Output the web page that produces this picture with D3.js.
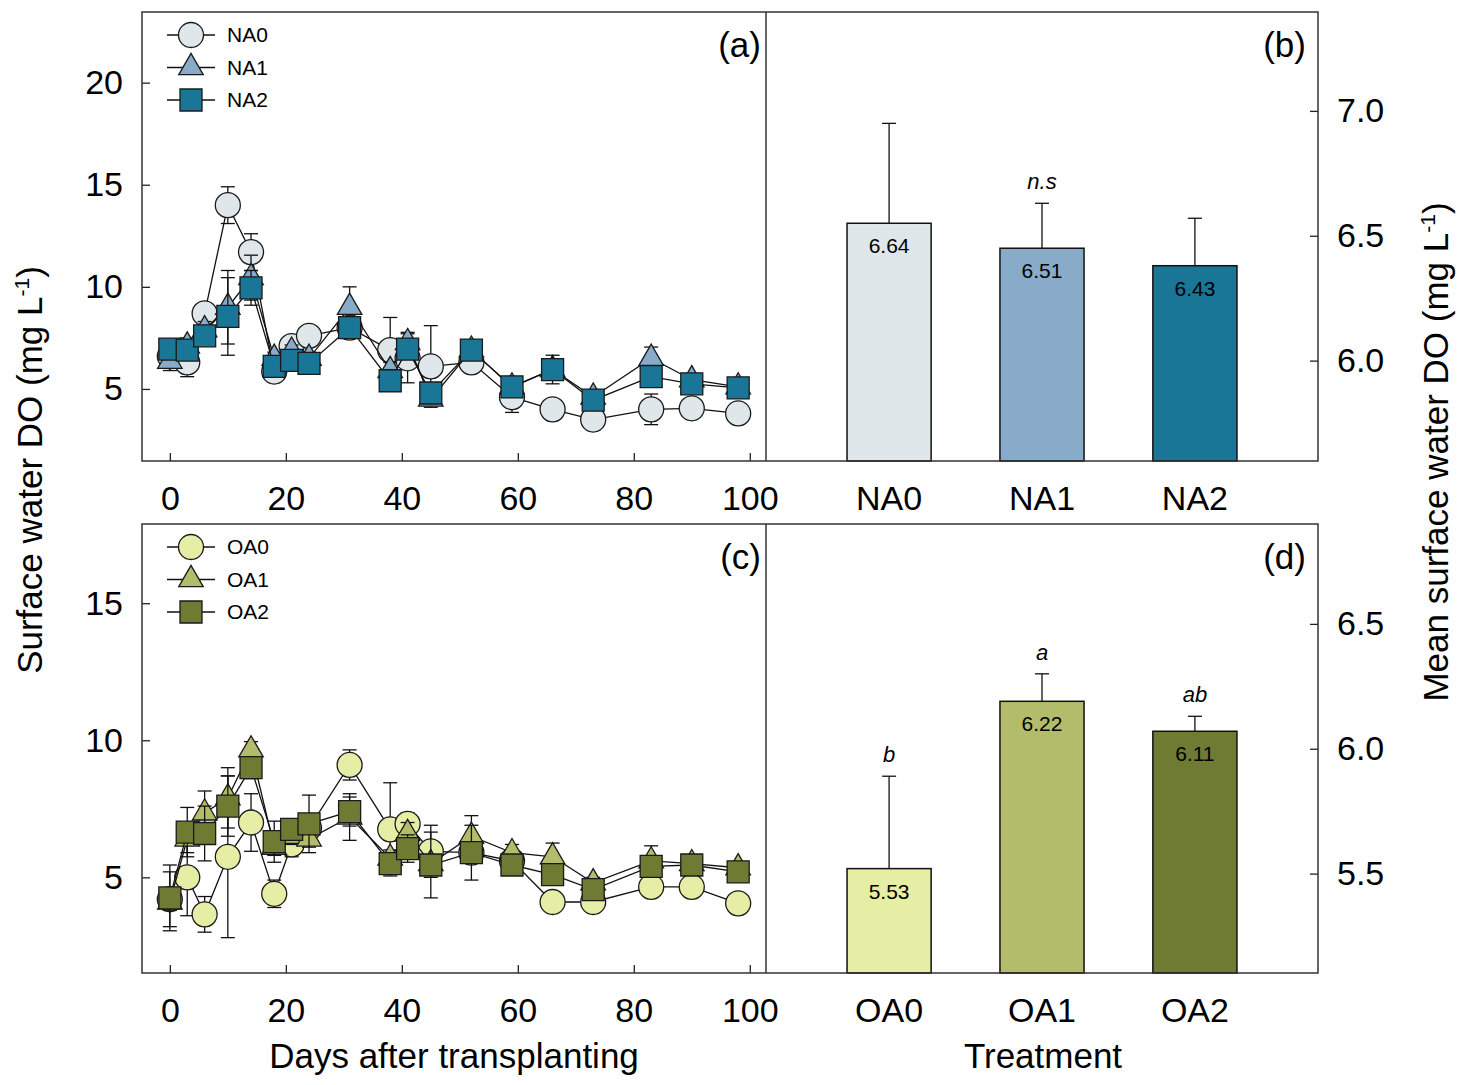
<!DOCTYPE html>
<html>
<head>
<meta charset="utf-8">
<script src="https://cdn.jsdelivr.net/npm/d3@7"></script>
<style>
  body { margin: 0; background: #fff; }
  svg { display: block; }
  text { font-family: "Liberation Sans", Arial, sans-serif; fill: #000; }
</style>
</head>
<body>
<svg width="1465" height="1085"></svg>
<script>
// sampling days after transplanting
const days = [0, 3, 6, 10, 14, 18, 21, 24, 31, 38, 41, 45, 52, 59, 66, 73, 83, 90, 98];

// panel (a) - surface water DO, NA treatments
const na0 = [6.6, 6.3, 8.7, 14.0, 11.7, 5.85, 7.1, 7.6, 8.0, 6.9, 6.5, 6.1, 6.3, 4.6, 4.0, 3.5, 4.0, 4.05, 3.8];
const na1 = [6.35, 7.1, 7.9, 9.0, 10.45, 6.5, 6.85, 6.5, 9.0, 5.9, 7.27, 4.5, 6.9, 5.1, 5.95, 4.6, 6.5, 5.45, 5.1];
const na2 = [6.95, 6.9, 7.6, 8.55, 9.95, 6.1, 6.4, 6.25, 8.0, 5.4, 6.95, 4.8, 6.9, 5.1, 5.95, 4.45, 5.6, 5.25, 5.05];
const na0Err = [0.55, 0.7, 0.4, 0.9, 0.9, 0.3, 0.4, 0.3, 0.4, 1.6, 1.2, 2.0, 0.3, 0.75, 0.3, 0.3, 0.75, 0.3, 0.3];
const na1Err = [0.45, 0.4, 0.4, 1.8, 1.1, 0.3, 0.3, 0.3, 1.0, 0.4, 0.5, 0.3, 0.3, 0.3, 0.3, 0.3, 0.55, 0.3, 0.3];
const na2Err = [0.4, 0.5, 0.4, 1.9, 0.85, 0.3, 0.3, 0.3, 0.3, 0.4, 0.3, 0.3, 0.3, 0.3, 0.7, 0.3, 0.3, 0.3, 0.3];

// panel (c) - surface water DO, OA treatments
const oa0 = [4.2, 5.0, 3.65, 5.75, 7.0, 4.4, 6.2, 6.8, 9.1, 6.75, 6.95, 5.95, 5.9, 5.6, 4.1, 4.1, 4.65, 4.65, 4.05];
const oa1 = [4.1, 6.4, 7.35, 7.9, 9.65, 6.1, 6.5, 6.4, 7.2, 5.7, 6.6, 5.5, 6.5, 5.9, 5.75, 4.8, 5.6, 5.5, 5.35];
const oa2 = [4.25, 6.65, 6.6, 7.6, 9.0, 6.3, 6.75, 6.95, 7.4, 5.5, 6.05, 5.45, 5.9, 5.45, 5.1, 4.55, 5.4, 5.45, 5.2];
const oa0Err = [1.0, 1.4, 0.65, 2.95, 1.05, 0.5, 0.45, 0.4, 0.55, 1.7, 0.4, 0.95, 0.3, 0.3, 0.2, 0.2, 0.3, 0.3, 0.2];
const oa1Err = [0.3, 0.5, 0.8, 1.1, 0.3, 0.3, 0.3, 0.3, 0.85, 0.3, 0.4, 0.3, 0.75, 0.3, 0.5, 0.2, 0.55, 0.2, 0.2];
const oa2Err = [1.2, 0.9, 1.0, 1.1, 0.4, 0.75, 0.3, 1.05, 0.53, 0.3, 0.5, 1.2, 1.0, 0.3, 0.3, 0.3, 0.3, 0.3, 0.3];

// panels (b) and (d) - mean surface water DO
const naCats = ["NA0", "NA1", "NA2"];
const naMeans = [6.55, 6.45, 6.38];
const naMeanErr = [0.40, 0.18, 0.19];
const naLabels = ["6.64", "6.51", "6.43"];
const naLetters = ["", "n.s", ""];

const oaCats = ["OA0", "OA1", "OA2"];
const oaMeans = [5.52, 6.19, 6.07];
const oaMeanErr = [0.37, 0.11, 0.06];
const oaLabels = ["5.53", "6.22", "6.11"];
const oaLetters = ["b", "a", "ab"];

// axis ticks
const dayTicks = [0, 20, 40, 60, 80, 100];
const aTicks = [5, 10, 15, 20];
const cTicks = [5, 10, 15];
const bTicks = [6.0, 6.5, 7.0];
const dTicks = [5.5, 6.0, 6.5];

const naColors = ["#e0e7ea", "#87abc8", "#1a7696"];
const oaColors = ["#e6eda4", "#b3bc6a", "#6f7a33"];
const shapes = ["circle", "triangle", "square"];

const svg = d3.select("svg");
const left = 142, mid = 766, right = 1318;
const panels = [{top: 12, bottom: 461}, {top: 524, bottom: 973}];

function markerPath(shape) {
    if (shape === "circle") return d3.symbol(d3.symbolCircle, Math.PI * 12.5 * 12.5)();
    if (shape === "triangle") return d3.symbol(d3.symbolTriangle, 260)();
    return d3.symbol(d3.symbolSquare, 22 * 22)();
}

function styleTicks(axisG, size) {
    axisG.select(".domain").remove();
    axisG.selectAll("line").attr("stroke", "#222").attr("stroke-width", 1.3);
    axisG.selectAll("text").style("font-size", size + "px").attr("fill", "#000");
}

function drawSeriesPanel(p, yDomain, yTicks, series, colors, names, tag) {
    const x = d3.scaleLinear().domain([-4.8, 102.8]).range([left, mid]);
    const y = d3.scaleLinear().domain(yDomain).range([p.bottom, p.top]);
    const g = svg.append("g");

    // axes with inward ticks
    const xa = g.append("g").attr("transform", `translate(0,${p.bottom})`)
        .call(d3.axisBottom(x).tickValues(dayTicks).tickSizeInner(-8).tickSizeOuter(0).tickPadding(25));
    styleTicks(xa, 34);
    const ya = g.append("g").attr("transform", `translate(${left},0)`)
        .call(d3.axisLeft(y).tickValues(yTicks).tickSizeInner(-8).tickSizeOuter(0).tickPadding(19));
    styleTicks(ya, 34);

    series.forEach((s, i) => {
        const pts = days.map((d, k) => ({d: d, v: s.v[k], e: s.e[k]}));
        const sg = g.append("g");
        sg.append("path")
            .attr("d", d3.line().x(q => x(q.d)).y(q => y(q.v))(pts))
            .attr("fill", "none").attr("stroke", "#111").attr("stroke-width", 1.3);
        const eb = sg.selectAll(".eb").data(pts).enter().append("g").attr("stroke", "#111").attr("stroke-width", 1.3);
        eb.append("line").attr("x1", q => x(q.d)).attr("x2", q => x(q.d))
            .attr("y1", q => y(q.v + q.e)).attr("y2", q => y(q.v - q.e));
        eb.append("line").attr("x1", q => x(q.d) - 7).attr("x2", q => x(q.d) + 7)
            .attr("y1", q => y(q.v + q.e)).attr("y2", q => y(q.v + q.e));
        eb.append("line").attr("x1", q => x(q.d) - 7).attr("x2", q => x(q.d) + 7)
            .attr("y1", q => y(q.v - q.e)).attr("y2", q => y(q.v - q.e));
        sg.selectAll(".mk").data(pts).enter().append("path")
            .attr("d", markerPath(shapes[i]))
            .attr("transform", q => `translate(${x(q.d)},${y(q.v)})`)
            .attr("fill", colors[i]).attr("stroke", "#1a1a1a").attr("stroke-width", 1.3);
    });

    // legend
    names.forEach((n, i) => {
        const ly = p.top + 23 + i * 32.5;
        g.append("line").attr("x1", 167).attr("x2", 215).attr("y1", ly).attr("y2", ly)
            .attr("stroke", "#111").attr("stroke-width", 1.3);
        g.append("path").attr("d", markerPath(shapes[i]))
            .attr("transform", `translate(191,${ly})`)
            .attr("fill", colors[i]).attr("stroke", "#1a1a1a").attr("stroke-width", 1.3);
        g.append("text").attr("x", 227).attr("y", ly + 7).style("font-size", "21px").text(n);
    });

    g.append("text").attr("x", 761).attr("y", p.top + 45).attr("text-anchor", "end")
        .style("font-size", "35px").text(tag);
}

function drawBarPanel(p, yDomain, yTicks, cats, means, errs, labels, letters, colors, tag) {
    const x = d3.scaleBand().domain(cats).range([mid, right]).paddingInner(0.45).paddingOuter(0.53);
    const y = d3.scaleLinear().domain(yDomain).range([p.bottom, p.top]);
    const g = svg.append("g");

    const xa = g.append("g").attr("transform", `translate(0,${p.bottom})`)
        .call(d3.axisBottom(x).tickSize(0).tickPadding(25));
    styleTicks(xa, 34);
    const ya = g.append("g").attr("transform", `translate(${right},0)`)
        .call(d3.axisRight(y).tickValues(yTicks).tickFormat(d3.format(".1f"))
            .tickSizeInner(-8).tickSizeOuter(0).tickPadding(19));
    styleTicks(ya, 34);

    const data = cats.map((c, i) => ({c: c, m: means[i], e: errs[i], lab: labels[i], let: letters[i], col: colors[i]}));
    const bg = g.selectAll(".bar").data(data).enter().append("g");
    bg.append("line")
        .attr("x1", d => x(d.c) + x.bandwidth() / 2).attr("x2", d => x(d.c) + x.bandwidth() / 2)
        .attr("y1", d => y(d.m)).attr("y2", d => y(d.m + d.e))
        .attr("stroke", "#111").attr("stroke-width", 1.3);
    bg.append("line")
        .attr("x1", d => x(d.c) + x.bandwidth() / 2 - 7).attr("x2", d => x(d.c) + x.bandwidth() / 2 + 7)
        .attr("y1", d => y(d.m + d.e)).attr("y2", d => y(d.m + d.e))
        .attr("stroke", "#111").attr("stroke-width", 1.3);
    bg.append("rect")
        .attr("x", d => x(d.c)).attr("width", x.bandwidth())
        .attr("y", d => y(d.m)).attr("height", d => p.bottom - y(d.m))
        .attr("fill", d => d.col).attr("stroke", "#111").attr("stroke-width", 1.5);
    bg.append("text")
        .attr("x", d => x(d.c) + x.bandwidth() / 2).attr("y", d => y(d.m) + 30)
        .attr("text-anchor", "middle").style("font-size", "21px").text(d => d.lab);
    bg.append("text")
        .attr("x", d => x(d.c) + x.bandwidth() / 2).attr("y", d => y(d.m + d.e) - 14)
        .attr("text-anchor", "middle").style("font-size", "22px").style("font-style", "italic")
        .text(d => d.let);

    g.append("text").attr("x", 1306).attr("y", p.top + 45).attr("text-anchor", "end")
        .style("font-size", "35px").text(tag);
}

drawSeriesPanel(panels[0], [1.47, 23.46], aTicks,
    [{v: na0, e: na0Err}, {v: na1, e: na1Err}, {v: na2, e: na2Err}], naColors, naCats, "(a)");
drawSeriesPanel(panels[1], [1.51, 17.89], cTicks,
    [{v: oa0, e: oa0Err}, {v: oa1, e: oa1Err}, {v: oa2, e: oa2Err}], oaColors, oaCats, "(c)");
drawBarPanel(panels[0], [5.598, 7.396], bTicks, naCats, naMeans, naMeanErr, naLabels, naLetters, naColors, "(b)");
drawBarPanel(panels[1], [5.102, 6.9], dTicks, oaCats, oaMeans, oaMeanErr, oaLabels, oaLetters, oaColors, "(d)");

// frames
panels.forEach(p => {
    svg.append("rect").attr("x", left).attr("y", p.top).attr("width", right - left).attr("height", p.bottom - p.top)
        .attr("fill", "none").attr("stroke", "#333").attr("stroke-width", 1.5);
    svg.append("line").attr("x1", mid).attr("x2", mid).attr("y1", p.top).attr("y2", p.bottom)
        .attr("stroke", "#333").attr("stroke-width", 1.5);
});

// axis titles
const lt = svg.append("text").attr("transform", "translate(42,470) rotate(-90)")
    .attr("text-anchor", "middle").style("font-size", "35px");
lt.append("tspan").text("Surface water DO (mg L");
lt.append("tspan").attr("dy", -13).style("font-size", "21px").text("-1");
lt.append("tspan").attr("dy", 13).text(")");

const rt = svg.append("text").attr("transform", "translate(1448,452) rotate(-90)")
    .attr("text-anchor", "middle").style("font-size", "35px");
rt.append("tspan").text("Mean surface water DO (mg L");
rt.append("tspan").attr("dy", -13).style("font-size", "21px").text("-1");
rt.append("tspan").attr("dy", 13).text(")");

svg.append("text").attr("x", 454).attr("y", 1068).attr("text-anchor", "middle")
    .style("font-size", "35px").text("Days after transplanting");
svg.append("text").attr("x", 1043).attr("y", 1068).attr("text-anchor", "middle")
    .style("font-size", "35px").text("Treatment");
</script>
</body>
</html>
